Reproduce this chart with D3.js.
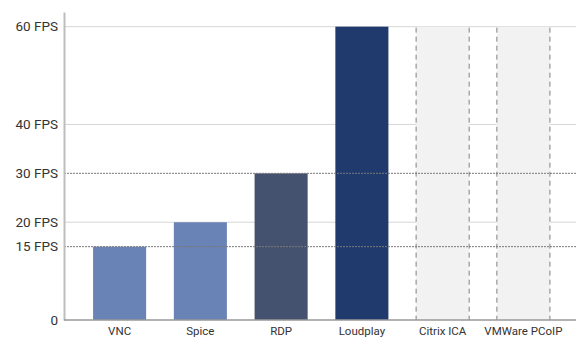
<!DOCTYPE html>
<html>
<head>
<meta charset="utf-8">
<script src="https://cdn.jsdelivr.net/npm/d3@7"></script>
<style>
  body { margin: 0; background: #fff; }
  text { font-family: Roboto, "Noto Sans", sans-serif; }
</style>
</head>
<body>
<div id="chart"></div>
<script>
// data
const protocols = ["VNC", "Spice", "RDP", "Loudplay", "Citrix ICA", "VMWare PCoIP"]
const fps = [15, 20, 30, 60, null, null]
const barColors = ["#6a83b7", "#6a83b7", "#45526f", "#213a6d", null, null]
const solidTicks = [60, 40, 20]
const dashedTicks = [30, 15]
const tickValues = [0, 15, 20, 30, 40, 60]

const width = 579
const height = 338
const margin = { top: 12, right: 0, bottom: 18, left: 64 }

const svg = d3.select("#chart")
  .append("svg")
  .attr("width", width)
  .attr("height", height)

const x = d3.scaleBand()
  .domain(protocols)
  .range([margin.left, width - margin.right])
  .paddingInner(0.343)
  .paddingOuter(0.36)

const y = d3.scaleLinear()
  .domain([0, 63])
  .range([height - margin.bottom, margin.top])

const maxFps = d3.max(tickValues)

// solid grid lines
svg.append("g")
  .selectAll("line")
  .data(solidTicks)
  .join("line")
  .attr("x1", margin.left)
  .attr("x2", width - 3)
  .attr("y1", d => y(d))
  .attr("y2", d => y(d))
  .attr("stroke", "#d6d6d6")
  .attr("stroke-width", 1)

const rows = protocols.map((p, i) => ({ name: p, value: fps[i], color: barColors[i] }))

// bars
svg.append("g")
  .selectAll("rect")
  .data(rows.filter(d => d.value != null))
  .join("rect")
  .attr("x", d => x(d.name))
  .attr("y", d => y(d.value))
  .attr("width", x.bandwidth())
  .attr("height", d => y(0) - y(d.value))
  .attr("fill", d => d.color)

// no-data columns: grey band with dashed edges
const missing = svg.append("g")
  .selectAll("g")
  .data(rows.filter(d => d.value == null))
  .join("g")

missing.append("rect")
  .attr("x", d => x(d.name))
  .attr("y", y(maxFps))
  .attr("width", x.bandwidth())
  .attr("height", y(0) - y(maxFps))
  .attr("fill", "#f2f2f2")

missing.selectAll("line")
  .data(d => [x(d.name), x(d.name) + x.bandwidth()])
  .join("line")
  .attr("x1", d => d)
  .attr("x2", d => d)
  .attr("y1", y(maxFps) + 1)
  .attr("y2", y(0))
  .attr("stroke", "#808080")
  .attr("stroke-width", 1)
  .attr("stroke-dasharray", "5,4")

// dashed reference lines (on top)
svg.append("g")
  .selectAll("line")
  .data(dashedTicks)
  .join("line")
  .attr("x1", margin.left)
  .attr("x2", width - 3)
  .attr("y1", d => y(d))
  .attr("y2", d => y(d))
  .attr("stroke", "#7a7a7a")
  .attr("stroke-width", 1)
  .attr("stroke-dasharray", "2,1")

// y axis
const yAxis = svg.append("g")
  .attr("transform", `translate(${margin.left},0)`)
  .call(d3.axisLeft(y)
    .tickValues(tickValues)
    .tickSize(0)
    .tickPadding(6)
    .tickFormat(d => d == 0 ? "0" : d + " FPS"))
yAxis.select(".domain")
  .attr("stroke", "#bdbdbd")
  .attr("stroke-width", 2)
yAxis.selectAll(".tick text")
  .attr("font-size", "13.5px")
  .attr("fill", "#333")
  .style("font-family", "Roboto, sans-serif")

// x axis
const xAxis = svg.append("g")
  .attr("transform", `translate(0,${y(0)})`)
  .call(d3.axisBottom(x).tickSize(0).tickPadding(7))
xAxis.select(".domain")
  .attr("stroke", "#999")
  .attr("stroke-width", 1.5)
  .attr("d", `M${margin.left},0H${width - 3}`)
xAxis.selectAll(".tick text")
  .attr("font-size", "11.5px")
  .attr("fill", "#333")
  .style("font-family", "Roboto, sans-serif")
</script>
</body>
</html>
